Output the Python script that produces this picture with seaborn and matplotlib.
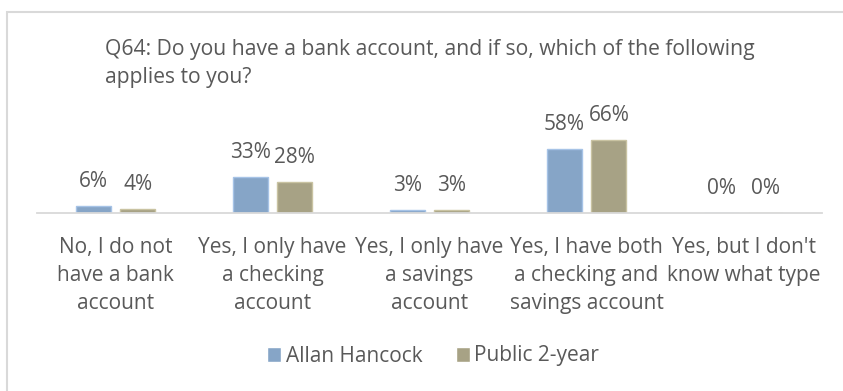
import matplotlib
matplotlib.use("Agg")
import matplotlib.pyplot as plt
from matplotlib.patches import Rectangle
import seaborn as sns
import pandas as pd

# Survey responses (percent of respondents)
categories = [
    "No, I do not\nhave a bank\naccount",
    "Yes, I only have\na checking\naccount",
    "Yes, I only have\na savings\naccount",
    "Yes, I have both\na checking and\nsavings account",
    "Yes, but I don't\nknow what type",
]
series_names = ["Allan Hancock", "Public 2-year"]
allan_hancock = [6, 33, 3, 58, 0]
public_2year = [4, 28, 3, 66, 0]
title_text = "Q64: Do you have a bank account, and if so, which of the following\napplies to you?"

colors = ["#7BA4D2", "#ADA67F"]
edge_colors = ["#A6C3E6", "#C9C3A2"]
text_color = "#595959"
grid_grey = "#D9D9D9"

df = pd.DataFrame({
    "category": categories * 2,
    "value": allan_hancock + public_2year,
    "series": [series_names[0]] * len(categories) + [series_names[1]] * len(categories),
})

sns.set_theme(style="white")
plt.rcParams["font.family"] = ["Open Sans", "DejaVu Sans"]

W, H = 843, 391
fig = plt.figure(figsize=(W / 100, H / 100), dpi=100)
fig.patch.set_facecolor("white")

# plot area in pixel terms: baseline at y=213, spanning x=37..822
px_per_pct = 1.106
ax_h_px = 100
ax = fig.add_axes([37 / W, (H - 213) / H, 785 / W, ax_h_px / H])

sns.barplot(
    data=df, x="category", y="value", hue="series",
    hue_order=series_names, order=categories, palette=colors,
    width=0.57, gap=0.22, ax=ax, errorbar=None, linewidth=1.0,
)

for container, ec in zip(ax.containers, edge_colors):
    for patch in container:
        patch.set_edgecolor(ec)
    ax.bar_label(container, labels=[f"{v:.0f}%" for v in container.datavalues],
                 padding=10, fontsize=15, color=text_color)

ax.set_ylim(0, ax_h_px / px_per_pct)
ax.set_xlim(-0.5, len(categories) - 0.5)
ax.set_xlabel("")
ax.set_ylabel("")
ax.set_yticks([])
for side in ["top", "left", "right"]:
    ax.spines[side].set_visible(False)
ax.spines["bottom"].set_color(grid_grey)
ax.spines["bottom"].set_linewidth(1.3)
ax.tick_params(axis="x", length=0, pad=17, labelsize=15, labelcolor=text_color)
for lbl in ax.get_xticklabels():
    lbl.set_linespacing(1.45)
ax.set_facecolor("none")

handles, labels = ax.get_legend_handles_labels()
ax.get_legend().remove()
fig.legend(handles, labels, loc="center", bbox_to_anchor=(433 / W, 1 - 356 / H),
           ncol=2, frameon=False, fontsize=15, labelcolor=text_color,
           handlelength=0.7, handleheight=0.7, handletextpad=0.2,
           columnspacing=1.6)

fig.text(105 / W, 1 - 39 / H, title_text, ha="left", va="top",
         fontsize=15.2, color=text_color, linespacing=1.45)

# chart area border
fig.patches.append(Rectangle((7 / W, -0.2), 1.2, 1.2 - 12 / H, transform=fig.transFigure,
                             fill=False, edgecolor=grid_grey, linewidth=1.5))

fig.savefig("out.png", dpi=100, facecolor="white")
